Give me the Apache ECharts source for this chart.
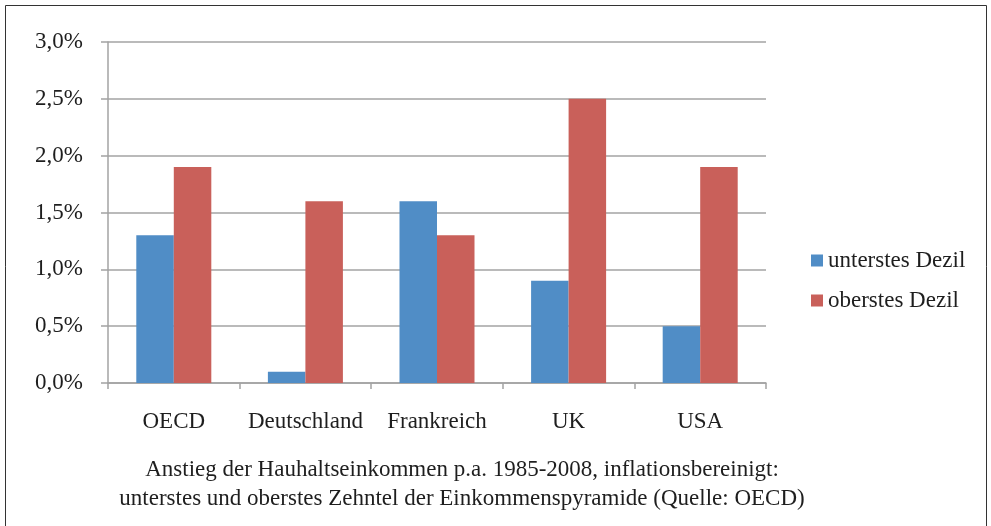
<!DOCTYPE html>
<html>
<head>
<meta charset="utf-8">
<script src="https://cdn.jsdelivr.net/npm/echarts@6/dist/echarts.min.js"></script>
<style>
  html, body { margin: 0; padding: 0; background: #fff; }
  #chart { width: 991px; height: 526px; }
</style>
</head>
<body>
<div id="chart"></div>
<script>
// Anstieg der Haushaltseinkommen p.a. 1985-2008 (OECD)
const categories = ['OECD', 'Deutschland', 'Frankreich', 'UK', 'USA'];
const seriesNames = ['unterstes Dezil', 'oberstes Dezil'];
const unterstes = [1.3, 0.1, 1.6, 0.9, 0.5];
const oberstes = [1.9, 1.6, 1.3, 2.5, 1.9];
const titleLines = [
  'Anstieg der Hauhaltseinkommen p.a. 1985-2008, inflationsbereinigt:',
  'unterstes und oberstes Zehntel der Einkommenspyramide (Quelle: OECD)'
];

const font = '"Liberation Serif", "Times New Roman", serif';
const gridColor = '#a3a3a3';

const chart = echarts.init(document.getElementById('chart'));

const option = {
  animation: false,
  textStyle: { fontFamily: font, color: '#1e1e1e' },
  graphic: [
    {
      type: 'rect',
      shape: { x: 5.5, y: 5.5, width: 981, height: 530 },
      style: { fill: 'none', stroke: '#333', lineWidth: 1 }
    },
    {
      type: 'text',
      x: 462,
      y: 484,
      style: {
        text: titleLines.join('\n'),
        font: '23px ' + font,
        fill: '#1e1e1e',
        align: 'center',
        verticalAlign: 'middle',
        lineHeight: 29
      }
    }
  ],
  grid: { left: 108, right: 225, top: 42, bottom: 143 },
  legend: {
    orient: 'vertical',
    left: 806,
    top: 244,
    itemWidth: 12,
    itemHeight: 12,
    itemGap: 17,
    icon: 'rect',
    textStyle: { fontFamily: font, fontSize: 23, color: '#1e1e1e' },
    data: seriesNames
  },
  xAxis: {
    type: 'category',
    data: categories,
    axisLine: { lineStyle: { color: gridColor, width: 1.5 } },
    axisTick: { show: true, length: 6, lineStyle: { color: gridColor, width: 1.5 } },
    axisLabel: { interval: 0, margin: 27, fontSize: 23, color: '#1e1e1e', fontFamily: font }
  },
  yAxis: {
    type: 'value',
    min: 0,
    max: 3,
    interval: 0.5,
    axisLine: { show: true, lineStyle: { color: gridColor, width: 1.5 } },
    axisTick: { show: true, length: 7, lineStyle: { color: gridColor, width: 1.5 } },
    splitLine: { lineStyle: { color: gridColor, width: 1.5 } },
    axisLabel: {
      margin: 25,
      fontSize: 23,
      color: '#1e1e1e',
      fontFamily: font,
      formatter: v => v.toFixed(1).replace('.', ',') + '%'
    }
  },
  series: [
    {
      name: seriesNames[0],
      type: 'bar',
      data: unterstes,
      barGap: '0%',
      barCategoryGap: '43%',
      itemStyle: { color: '#508dc6' }
    },
    {
      name: seriesNames[1],
      type: 'bar',
      data: oberstes,
      barGap: '0%',
      barCategoryGap: '43%',
      itemStyle: { color: '#c9605a' }
    }
  ]
};

chart.setOption(option);
</script>
</body>
</html>
